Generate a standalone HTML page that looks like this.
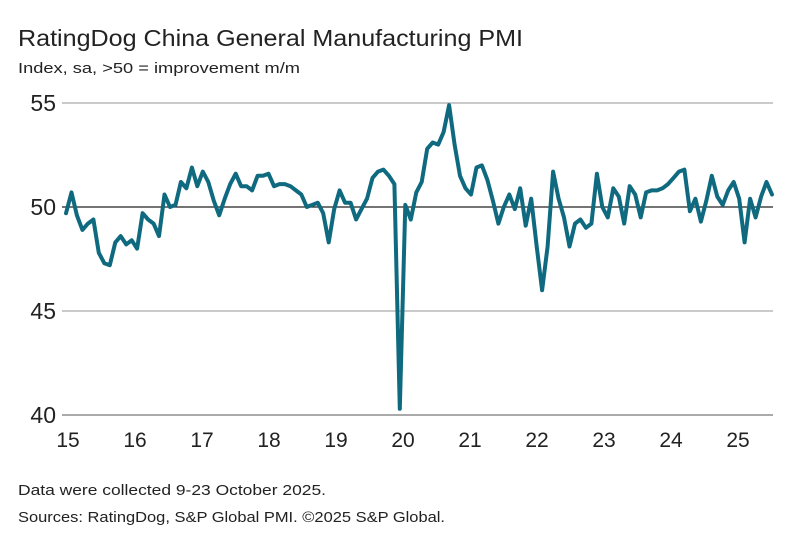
<!DOCTYPE html>
<html><head><meta charset="utf-8"><style>
body{margin:0;background:#fff;font-family:"Liberation Sans",sans-serif;}
#wrap{position:relative;width:786px;height:539px;overflow:hidden;}
</style></head><body>
<div id="wrap">
<svg id="chart" width="786" height="539">
<text x="18" y="46" font-size="23" fill="#222" textLength="505" lengthAdjust="spacingAndGlyphs">RatingDog China General Manufacturing PMI</text>
<text x="18" y="73" font-size="15" fill="#222" textLength="282" lengthAdjust="spacingAndGlyphs">Index, sa, &gt;50 = improvement m/m</text>
<text x="18" y="495" font-size="15" fill="#222" textLength="308" lengthAdjust="spacingAndGlyphs">Data were collected 9-23 October 2025.</text>
<text x="18" y="522" font-size="15" fill="#222" textLength="427" lengthAdjust="spacingAndGlyphs">Sources: RatingDog, S&amp;P Global PMI. ©2025 S&amp;P Global.</text>
<g id="grid"></g><g id="series"></g>
</svg>
</div>
<script>
const yTicks=[40,45,50,55];
const xLabels=["15","16","17","18","19","20","21","22","23","24","25"];
const pmi2015=[49.7,50.7,49.6,48.9,49.2,49.4,47.8,47.3,47.2,48.3,48.6,48.2];
const pmi2016=[48.4,48.0,49.7,49.4,49.2,48.6,50.6,50.0,50.1,51.2,50.9,51.9];
const pmi2017=[51.0,51.7,51.2,50.3,49.6,50.4,51.1,51.6,51.0,51.0,50.8,51.5];
const pmi2018=[51.5,51.6,51.0,51.1,51.1,51.0,50.8,50.6,50.0,50.1,50.2,49.7];
const pmi2019=[48.3,49.9,50.8,50.2,50.2,49.4,49.9,50.4,51.4,51.7,51.8,51.5];
const pmi2020=[51.1,40.3,50.1,49.4,50.7,51.2,52.8,53.1,53.0,53.6,54.9,53.0];
const pmi2021=[51.5,50.9,50.6,51.9,52.0,51.3,50.3,49.2,50.0,50.6,49.9,50.9];
const pmi2022=[49.1,50.4,48.1,46.0,48.1,51.7,50.4,49.5,48.1,49.2,49.4,49.0];
const pmi2023=[49.2,51.6,50.0,49.5,50.9,50.5,49.2,51.0,50.6,49.5,50.7,50.8];
const pmi2024=[50.8,50.9,51.1,51.4,51.7,51.8,49.8,50.4,49.3,50.3,51.5,50.5];
const pmi2025=[50.1,50.8,51.2,50.4,48.3,50.4,49.5,50.5,51.2,50.6];
const values=[].concat(pmi2015,pmi2016,pmi2017,pmi2018,pmi2019,pmi2020,pmi2021,pmi2022,pmi2023,pmi2024,pmi2025);
const NS="http://www.w3.org/2000/svg";
const X0=66,X1=772,Y55=103,Y40=415;
const yS=v=>Y40-(v-40)*(Y40-Y55)/15;
const xS=i=>X0+i*(X1-X0)/(values.length-1);
const grid=document.getElementById('grid');
function mk(t,a,p){const e=document.createElementNS(NS,t);for(const k in a)e.setAttribute(k,a[k]);p.appendChild(e);return e;}
yTicks.forEach(v=>{
 const l=mk('line',{x1:62,x2:773,y1:yS(v),y2:yS(v),stroke:v===50?'#222':(v===40?'#777':'#aaa'),'stroke-width':v===50?1.3:1.2},grid);
 
 
 const t=mk('text',{x:56,y:yS(v)+8,'text-anchor':'end','font-size':23,fill:'#222'},grid);
 t.textContent=v;
 
 
});
xLabels.forEach((s,i)=>{
 const t=mk('text',{x:68+i*67,y:447,'text-anchor':'middle','font-size':21,fill:'#222'},grid);
 t.textContent=s;
 
 
});
const d=values.map((v,i)=>(i?'L':'M')+xS(i).toFixed(1)+','+yS(v).toFixed(1)).join('');
const p=mk('path',{d:d,fill:'none',stroke:'#0f6a80','stroke-width':4,'stroke-linejoin':'round','stroke-linecap':'round'},document.getElementById('series'));


</script>
</body></html>
